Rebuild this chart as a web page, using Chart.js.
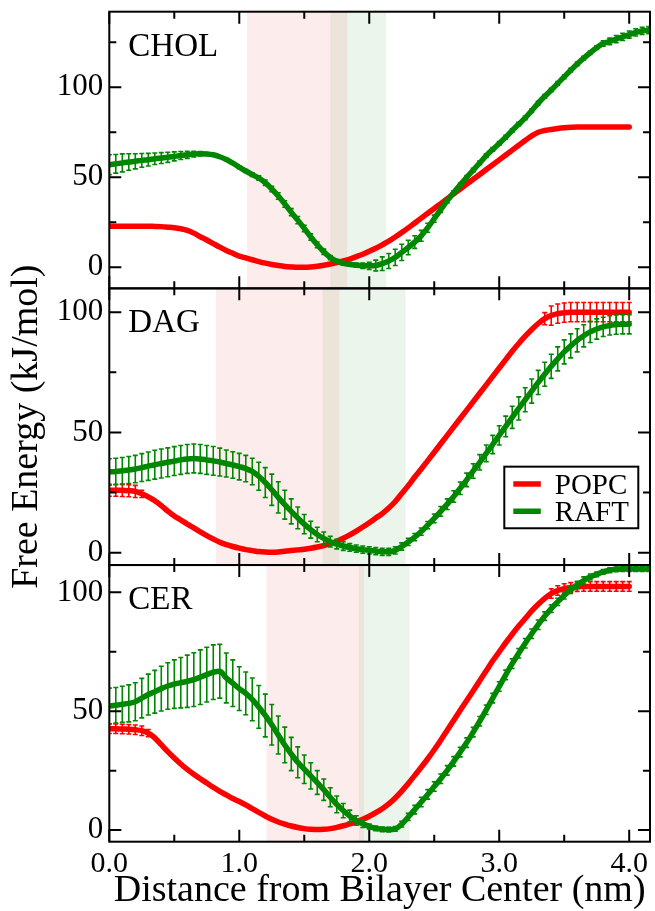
<!DOCTYPE html>
<html>
<head>
<meta charset="utf-8">
<script src="https://cdn.jsdelivr.net/npm/chart.js@4.4.1/dist/chart.umd.min.js"></script>
<style>
html,body{margin:0;padding:0;background:#fff;}
#wrap{position:relative;width:655px;height:911px;}
</style>
</head>
<body>
<div id="wrap"><canvas id="c" width="655" height="911"></canvas></div>
<script>
// ---------- DATA ----------
const distance = [
 0.00,0.05,0.10,0.15,0.20,0.25,0.30,0.35,0.40,0.45,0.50,0.55,0.60,0.65,0.70,0.75,0.80,0.85,0.90,0.95,
 1.00,1.05,1.10,1.15,1.20,1.25,1.30,1.35,1.40,1.45,1.50,1.55,1.60,1.65,1.70,1.75,1.80,1.85,1.90,1.95,
 2.00,2.05,2.10,2.15,2.20,2.25,2.30,2.35,2.40,2.45,2.50,2.55,2.60,2.65,2.70,2.75,2.80,2.85,2.90,2.95,
 3.00,3.05,3.10,3.15,3.20,3.25,3.30,3.35,3.40,3.45,3.50,3.55,3.60,3.65,3.70,3.75,3.80,3.85,3.90,3.95,
 4.00,4.05,4.10,4.15,4.20];

const panelNames = ['CHOL','DAG','CER'];
const seriesNames = ['POPC','RAFT'];

// CHOL
const cholPOPC = [
 22.8,22.8,22.8,22.8,22.8, 22.8,22.8,22.7,22.6,22.3, 22.0,21.4,20.5,19.0,17.0, 15.2,13.2,11.2,9.3,7.8,
 6.2,5.2,4.2,3.2,2.3, 1.6,1.0,0.5,0.2,0.0, 0.0,0.2,0.6,1.1,1.8, 2.6,3.5,4.6,5.9,7.3,
 8.9,10.6,12.5,14.5,16.8, 19.3,21.9,24.6,27.3,30.0, 32.7,35.4,38.1,40.8,43.5, 46.2,48.9,51.6,54.3,57.0,
 59.7,62.4,65.1,67.8,70.5, 73.0,75.0,76.0,76.6,77.1, 77.5,77.8,78.0,78.0,78.0, 78.0,78.0,78.0,78.0,78.0,
 78.0];
const cholRAFT = [
 57.0,57.5,58.0,58.5,58.9, 59.4,59.8,60.3,60.7,61.1, 61.6,62.1,62.5,62.9,63.1, 63.0,62.5,61.4,59.9,57.9,
 55.6,53.5,51.5,49.6,47.0, 43.5,39.6,35.2,30.6,26.2, 21.6,16.8,12.5,8.6,5.4, 3.4,2.2,1.6,1.2,0.9,
 0.8,1.0,2.0,3.5,5.5, 8.3,11.0,14.0,17.5,22.0, 27.0,32.0,37.0,41.5,45.8, 50.0,54.0,58.0,62.0,65.5,
 68.8,72.3,76.0,79.5,83.0, 87.0,91.2,95.0,98.5,102.2, 105.8,109.5,113.0,116.2,119.2, 122.0,124.3,125.5,126.8,128.0,
 129.3,130.5,131.3,131.8,132.0];
const cholRAFTerr = [
 5.5,5.2,5.0,4.6,4.2, 3.8,3.5,3.2,3.0,2.8, 2.5,2.2,2.0,1.6,1.2, 0.8,0.6,0.6,0.6,0.6,
 0.8,0.8,1.0,1.2,1.5, 1.5,1.8,1.8,2.0,2.0, 1.8,1.8,1.6,1.5,1.2, 1.0,1.0,1.0,1.2,1.5,
 2.0,3.0,3.8,4.2,4.5, 4.5,4.0,3.5,3.0,2.5, 2.0,1.5,1.2,1.0,1.0, 1.0,1.0,1.0,1.0,1.0,
 1.0,1.0,1.0,1.0,1.0, 1.0,1.0,1.0,1.0,1.0, 1.0,1.0,1.0,1.0,1.0, 1.0,1.5,1.8,2.0,2.0,
 2.0,2.0,2.0,2.0,2.0];

// DAG
const dagPOPC = [
 26.0,26.0,25.9,25.8,25.5, 24.5,23.2,21.6,19.6,17.3, 15.3,13.6,11.9,10.3,8.7, 7.1,5.7,4.4,3.4,2.6,
 1.9,1.3,0.9,0.5,0.3, 0.2,0.3,0.6,0.9,1.2, 1.5,1.9,2.4,3.0,3.8, 4.8,6.0,7.4,9.0,10.7,
 12.5,14.4,16.3,18.6,21.3, 24.6,27.9,31.5,34.8,38.3, 41.8,45.3,48.8,52.3,55.8, 59.3,62.8,66.3,69.8,73.3,
 76.8,80.3,83.8,87.0,90.0, 92.8,95.3,97.3,98.6,99.4, 99.8,100,100,100,100, 100,100,100,100,100,
 100];
const dagPOPCerr = [
 2.5,2.5,2.5,2.5,2.5, 1.5,0,0,0,0, 0,0,0,0,0, 0,0,0,0,0,
 0,0,0,0,0, 0,0,0,0,0, 0,0,0,0,0, 0,0,0,0,0,
 0,0,0,0,0, 0,0,0,0,0, 0,0,0,0,0, 0,0,0,0,0,
 0,0,0,0,0, 0,0,2.5,4.0,4.0, 4.0,4.0,4.0,4.0,4.0, 4.0,4.0,4.0,4.0,4.0,
 4.0];
const dagRAFT = [
 33.6,33.8,34.1,34.4,34.8, 35.4,36.0,36.6,37.1,37.6, 38.1,38.6,39.0,39.2,39.0, 38.6,38.2,37.7,37.1,36.5,
 35.8,35.0,33.8,31.8,29.2, 26.2,23.0,20.0,17.2,14.5, 11.9,9.6,7.6,6.0,4.6, 3.6,2.8,2.2,1.7,1.3,
 1.0,0.7,0.4,0.4,1.0, 2.6,4.5,6.5,8.8,11.5, 14.3,17.2,20.2,23.4,26.8, 30.3,34.0,37.6,41.3,45.0,
 48.8,52.5,56.3,60.0,63.6, 67.2,70.8,74.2,77.5,80.6, 83.5,86.0,88.3,90.2,91.8, 93.0,93.9,94.5,94.8,95.0,
 95.0];
const dagRAFTerr = [
 5.5,5.5,5.5,5.6,5.7, 5.8,5.9,6.0,6.0,6.0, 6.0,6.0,6.0,6.0,6.0, 6.0,6.0,5.8,5.6,5.5,
 5.5,5.5,5.5,5.8,6.2, 6.5,6.5,6.0,5.2,4.5, 4.0,3.5,3.0,2.6,2.2, 2.0,1.8,1.6,1.5,1.5,
 1.5,1.5,1.5,1.5,1.5, 1.5,1.5,1.5,1.5,1.5, 1.8,2.0,2.2,2.4,2.6, 2.8,3.0,3.2,3.5,3.8,
 4.0,4.3,4.6,4.8,5.0, 5.0,5.0,5.0,5.0,5.0, 5.0,5.0,4.8,4.6,4.4, 4.2,4.0,4.0,4.0,4.0,
 4.0];

// CER
const cerPOPC = [
 42.6,42.6,42.5,42.4,42.2, 41.8,40.8,38.8,35.9,33.0, 30.3,27.8,25.5,23.5,21.6, 19.8,18.0,16.3,14.8,13.3,
 12.0,10.6,9.0,7.4,5.9, 4.5,3.4,2.5,1.7,1.1, 0.6,0.3,0.2,0.3,0.6, 1.1,1.8,2.6,3.4,4.5,
 5.8,7.3,9.0,11.0,13.5, 16.4,19.6,23.0,26.4,30.0, 33.8,37.8,42.0,46.2,50.4, 54.5,58.6,62.8,67.0,71.2,
 75.0,78.8,82.4,85.8,89.0, 92.2,95.0,97.5,99.5,100.8, 101.6,102.1,102.4,102.5,102.5, 102.5,102.5,102.5,102.5,102.5,
 102.5];
const cerPOPCerr = [
 2.0,2.0,2.0,2.0,2.0, 2.0,1.5,0,0,0, 0,0,0,0,0, 0,0,0,0,0,
 0,0,0,0,0, 0,0,0,0,0, 0,0,0,0,0, 0,0,0,0,0,
 0,0,0,0,0, 0,0,0,0,0, 0,0,0,0,0, 0,0,0,0,0,
 0,0,0,0,0, 0,0,0,2.0,2.0, 2.0,2.0,2.0,2.0,2.0, 2.0,2.0,2.0,2.0,2.0,
 2.0];
const cerRAFT = [
 52.2,52.5,52.9,53.3,54.0, 55.5,57.0,58.2,59.5,60.6, 61.4,62.0,62.6,63.3,64.3, 65.4,66.4,66.8,64.0,61.8,
 59.5,57.5,55.0,51.8,48.2, 44.3,40.0,35.8,32.0,28.5, 25.6,22.8,20.0,17.0,13.8, 10.8,8.2,5.9,4.0,2.6,
 1.5,0.7,0.3,0.2,0.5, 2.5,5.5,8.6,11.8,15.0, 18.3,21.6,25.1,28.9,32.8, 36.8,41.2,45.8,50.6,55.5,
 60.4,65.3,70.0,74.4,78.6, 82.6,86.4,90.0,93.2,96.0, 98.7,101.0,103.2,105.0,106.5, 107.6,108.6,109.3,109.7,109.8,
 109.8,109.8,109.8,109.8,109.8];
const cerRAFTerr = [
 7.5,7.5,7.6,7.8,8.0, 8.3,8.6,9.0,9.4,9.8, 10.2,10.6,11.0,11.3,11.5, 11.5,11.5,11.3,10.5,9.8,
 9.2,9.0,9.0,9.0,9.0, 8.5,8.0,7.5,7.0,6.5, 6.0,5.5,5.0,4.5,4.0, 3.5,3.0,2.5,2.0,1.5,
 1.0,1.0,1.0,1.0,1.0, 1.2,1.5,1.8,2.0,2.0, 2.0,2.0,2.0,2.0,2.0, 2.0,2.0,2.0,2.0,2.0,
 2.0,2.0,2.0,2.0,2.0, 2.0,2.0,1.8,1.6,1.5, 1.5,1.5,1.5,1.5,1.2, 1.0,1.0,1.0,1.0,1.0,
 1.0,1.0,1.0,1.0,1.0];

// shaded regions [from, to] in nm, per panel
const popcBand = [[1.06,1.83],[0.82,1.77],[1.21,1.96]];
const raftBand = [[1.70,2.13],[1.64,2.28],[1.92,2.31]];

// axes
const xTickValues = [0,1,2,3,4];
const xMinorValues = [0.5,1.5,2.5,3.5];
const yTickValues = [0,50,100];
const yMinorValues = [[25,75,125],[25,75],[25,75]];
const yMin = [-11.7,-5.1,-4.9];
const yMax = [142,109.9,111.5];
const X_MAX = 4.16;

// ---------- STYLE ----------
const RED = 'rgb(255,0,0)';
const GREEN = 'rgb(0,135,0)';
const FONT = '"Liberation Serif", "Times New Roman", serif';

const seriesData = [
  [cholPOPC, null, cholRAFT, cholRAFTerr],
  [dagPOPC, dagPOPCerr, dagRAFT, dagRAFTerr],
  [cerPOPC, cerPOPCerr, cerRAFT, cerRAFTerr]
];
function pts(arr){ return arr.map((v,i)=>({x:distance[i], y:v})); }

const datasets = [];
seriesData.forEach((s,k)=>{
  datasets.push({label:seriesNames[0], data:pts(s[0]), errors:s[1], yAxisID:'y'+k,
    borderColor:RED, backgroundColor:RED, order:1});
  datasets.push({label:seriesNames[1], data:pts(s[2]), errors:s[3], yAxisID:'y'+k,
    borderColor:GREEN, backgroundColor:GREEN, order:0});
});

const bandsPlugin = {
  id:'bands',
  beforeDatasetsDraw(chart){
    const ctx = chart.ctx, xs = chart.scales.x;
    for (let k=0;k<3;k++){
      const ys = chart.scales['y'+k];
      ctx.save();
      ctx.fillStyle = 'rgba(110,175,100,0.13)';
      let a = xs.getPixelForValue(raftBand[k][0]), b = xs.getPixelForValue(raftBand[k][1]);
      ctx.fillRect(a, ys.top, b-a, ys.bottom-ys.top);
      ctx.fillStyle = 'rgba(235,140,140,0.17)';
      a = xs.getPixelForValue(popcBand[k][0]); b = xs.getPixelForValue(popcBand[k][1]);
      ctx.fillRect(a, ys.top, b-a, ys.bottom-ys.top);
      ctx.restore();
    }
  }
};

const errorPlugin = {
  id:'errbars',
  afterDatasetDraw(chart, args){
    const ds = chart.data.datasets[args.index];
    if (!ds.errors) return;
    const xs = chart.scales.x, ys = chart.scales[ds.yAxisID];
    const ctx = chart.ctx;
    ctx.save();
    ctx.beginPath();
    ctx.rect(chart.chartArea.left, chart.chartArea.top, chart.chartArea.right-chart.chartArea.left, chart.chartArea.bottom-chart.chartArea.top);
    ctx.clip();
    ctx.strokeStyle = ds.borderColor;
    ctx.lineWidth = 1.6;
    ds.data.forEach((p,i)=>{
      const e = ds.errors[i];
      if (!e) return;
      const px = xs.getPixelForValue(p.x);
      const y1 = ys.getPixelForValue(p.y + e), y2 = ys.getPixelForValue(p.y - e);
      ctx.beginPath();
      ctx.moveTo(px, y1); ctx.lineTo(px, y2);
      ctx.moveTo(px-2.5, y1); ctx.lineTo(px+2.5, y1);
      ctx.moveTo(px-2.5, y2); ctx.lineTo(px+2.5, y2);
      ctx.stroke();
    });
    ctx.restore();
  }
};

const framePlugin = {
  id:'frame',
  afterDraw(chart){
    const ctx = chart.ctx, xs = chart.scales.x;
    ctx.save();
    ctx.strokeStyle = '#000';
    ctx.lineWidth = 2;
    const L = xs.left, R = xs.right;
    for (let k=0;k<3;k++){
      const ys = chart.scales['y'+k];
      const T = ys.top, B = ys.bottom;
      ctx.strokeRect(L, T, R-L, B-T);
      ctx.beginPath();
      xTickValues.forEach(v=>{ const p = xs.getPixelForValue(v);
        ctx.moveTo(p,B); ctx.lineTo(p,B-12); ctx.moveTo(p,T); ctx.lineTo(p,T+12); });
      xMinorValues.forEach(v=>{ const p = xs.getPixelForValue(v);
        ctx.moveTo(p,B); ctx.lineTo(p,B-7); ctx.moveTo(p,T); ctx.lineTo(p,T+7); });
      yTickValues.forEach(v=>{ const p = ys.getPixelForValue(v);
        ctx.moveTo(L,p); ctx.lineTo(L+12,p); ctx.moveTo(R,p); ctx.lineTo(R-12,p); });
      yMinorValues[k].forEach(v=>{ const p = ys.getPixelForValue(v);
        ctx.moveTo(L,p); ctx.lineTo(L+7,p); ctx.moveTo(R,p); ctx.lineTo(R-7,p); });
      ctx.stroke();
      // panel name
      ctx.fillStyle = '#000';
      ctx.font = '33px ' + FONT;
      ctx.textAlign = 'left';
      ctx.textBaseline = 'alphabetic';
      ctx.fillText(panelNames[k], L + 19, T + 44);
    }
    // legend in DAG panel
    const ys = chart.scales.y1;
    const bx = R - 145.7, by = ys.top + 178.3, bw = 134, bh = 61.6;
    ctx.fillStyle = '#fff';
    ctx.fillRect(bx, by, bw, bh);
    ctx.strokeRect(bx, by, bw, bh);
    const rows = [[seriesNames[0], RED], [seriesNames[1], GREEN]];
    rows.forEach((r,i)=>{
      const cy = by + 17.3 + i*27.3;
      ctx.strokeStyle = r[1];
      ctx.lineWidth = 5.5;
      ctx.beginPath(); ctx.moveTo(bx+9, cy); ctx.lineTo(bx+36.5, cy); ctx.stroke();
      ctx.fillStyle = '#000';
      ctx.font = '29px ' + FONT;
      ctx.textAlign = 'left';
      ctx.textBaseline = 'alphabetic';
      ctx.fillText(r[0], bx + 50.5, cy + 10);
    });
    ctx.restore();
  }
};

function yScale(k, weight){
  return {
    type:'linear', position:'left', stack:'panels', stackWeight:1, weight:weight,
    min:yMin[k], max:yMax[k],
    grid:{display:false, drawTicks:false}, border:{display:false},
    afterBuildTicks(s){ s.ticks = yTickValues.map(v=>({value:v})); },
    ticks:{font:{family:FONT, size:31}, color:'#000', padding:6, callback:v=>String(v)},
    title:{display:k===1, text:'Free Energy (kJ/mol)', font:{family:FONT, size:38}, color:'#000', padding:{top:4,bottom:0}},
    afterFit(s){ s.width = 109.3; s.paddingTop = 0; s.paddingBottom = 0; }
  };
}

new Chart(document.getElementById('c'), {
  type:'line',
  data:{datasets},
  options:{
    responsive:false, animation:false, devicePixelRatio:1,
    layout:{padding:{top:11.7, right:5, bottom:0, left:0}},
    plugins:{legend:{display:false}, tooltip:{enabled:false}},
    elements:{point:{radius:0}, line:{borderWidth:5.5, cubicInterpolationMode:'monotone', borderCapStyle:'round'}},
    scales:{
      x:{
        type:'linear', position:'bottom', min:0, max:X_MAX,
        grid:{display:false, drawTicks:false}, border:{display:false},
        afterBuildTicks(s){ s.ticks = xTickValues.map(v=>({value:v})); },
        ticks:{font:{family:FONT, size:30}, color:'#000', padding:4, maxRotation:0, autoSkip:false,
               callback:v=>Number(v).toFixed(1)},
        title:{display:true, text:'Distance from Bilayer Center (nm)', font:{family:FONT, size:38, lineHeight:1.05}, color:'#000', padding:{top:0,bottom:0}},
        afterFit(s){ s.height = 69.3; s.paddingLeft = 0; s.paddingRight = 0; }
      },
      y0:yScale(0,3),
      y1:yScale(1,2),
      y2:yScale(2,1)
    }
  },
  plugins:[bandsPlugin, errorPlugin, framePlugin]
});
</script>
</body>
</html>
